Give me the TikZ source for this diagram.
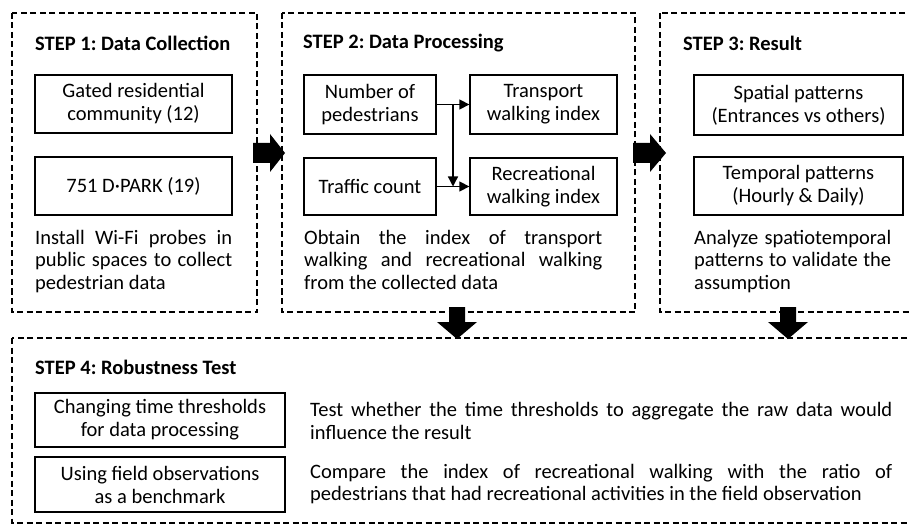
\documentclass[tikz,border=0pt]{standalone}
\usepackage{fontspec}
\setmainfont{Carlito}
\usetikzlibrary{arrows.meta,calc}
\frenchspacing
\tikzset{
  dashbox/.style={draw, line width=1.6pt, dash pattern=on 6pt off 3.5pt},
  ibox/.style={draw, line width=1.3pt, inner sep=0pt, align=center, font=\fontsize{20.5}{23}\selectfont\frenchspacing},
  ttl/.style={anchor=west, inner sep=0pt, font=\fontsize{20.5}{23}\selectfont\bfseries\frenchspacing},
  para/.style={anchor=north west, inner sep=0pt, align=justify, font=\fontsize{20.5}{22.5}\selectfont\frenchspacing},
  conn/.style={line width=1.3pt, -{Triangle[length=10pt,width=10pt]}},
  blockarrow/.style={fill=black}
}
\begin{document}
\begin{tikzpicture}[x=1pt,y=-1pt]
\useasboundingbox (0,0) rectangle (909,526);
\clip (0,0) rectangle (909,526);
% outer dashed frames
\draw[dashbox] (12,13) rectangle (257,312);
\draw[dashbox] (282,13) rectangle (635,312);
\draw[dashbox] (660,13) rectangle (930,312);
\draw[dashbox] (12,338) rectangle (930,523);
% STEP 1
\node[ttl] (t1) at (35,43) {STEP 1: Data Collection};
\node[ibox, minimum width=197pt, minimum height=58pt] (g) at (133.5,104) {Gated residential\\community (12)};
\node[ibox, minimum width=197pt, minimum height=58pt] (d) at (133.5,186) {751 D·PARK (19)};
\node[para, text width=197pt] (p1) at (35,230) {Install Wi-Fi probes in\linebreak public spaces to collect\linebreak pedestrian data};
% STEP 2
\node[ttl] (t2) at (303,43) {STEP 2: Data Processing};
\node[ibox, minimum width=132pt, minimum height=59pt] (np) at (370,104.5) {Number of\\pedestrians};
\node[ibox, minimum width=147pt, minimum height=59pt] (tw) at (543.5,104.5) {Transport\\walking index};
\node[ibox, minimum width=132pt, minimum height=57pt] (tc) at (370,186.5) {Traffic count};
\node[ibox, minimum width=147pt, minimum height=57pt] (rw) at (543.5,186.5) {Recreational\\walking index};
\coordinate (br) at ($(np.east)!0.5!(tw.west)$);
\draw[conn] (np.east) -- (tw.west);
\draw[conn] (br) -- (br |- tc.east);
\draw[conn] (tc.east) -- (rw.west);
\node[para, text width=298pt] (p2) at (304,230) {Obtain the index of transport\linebreak walking and recreational walking\linebreak from the collected data};
% STEP 3
\node[ttl] (t3) at (683,43) {STEP 3: Result};
\node[ibox, minimum width=209pt, minimum height=60pt] (sp) at (798.5,105) {Spatial patterns\\(Entrances vs others)};
\node[ibox, minimum width=209pt, minimum height=58pt] (tp) at (798.5,186) {Temporal patterns\\(Hourly \& Daily)};
\node[para, text width=197pt] (p3) at (694,230) {Analyze spatiotemporal\linebreak patterns to validate the\linebreak assumption};
% STEP 4
\node[ttl] (t4) at (35,367) {STEP 4: Robustness Test};
\node[ibox, minimum width=250pt, minimum height=54pt] (ct) at (160,420) {Changing time thresholds\\for data processing};
\node[ibox, minimum width=250pt, minimum height=55pt] (uf) at (160,484.5) {Using field observations\\as a benchmark};
\node[para, anchor=west, text width=582pt] (p4) at (310,421) {Test whether the time thresholds to aggregate the raw data would\linebreak influence the result};
\node[para, anchor=west, text width=582pt] (p5) at (310,484) {Compare the index of recreational walking with the ratio of\linebreak pedestrians that had recreational activities in the field observation};
% block arrows
\fill[blockarrow] (253,143) -- (270,143) -- (270,134) -- (285,153) -- (270,172) -- (270,163) -- (253,163) -- cycle;
\fill[blockarrow] (633,143) -- (650,143) -- (650,134) -- (666,153) -- (650,172) -- (650,163) -- (633,163) -- cycle;
\fill[blockarrow] (449,307) -- (465,307) -- (465,322) -- (477,322) -- (457,339) -- (437,322) -- (449,322) -- cycle;
\fill[blockarrow] (780,307) -- (796,307) -- (796,322) -- (808,322) -- (788,339) -- (768,322) -- (780,322) -- cycle;
\end{tikzpicture}
\end{document}
